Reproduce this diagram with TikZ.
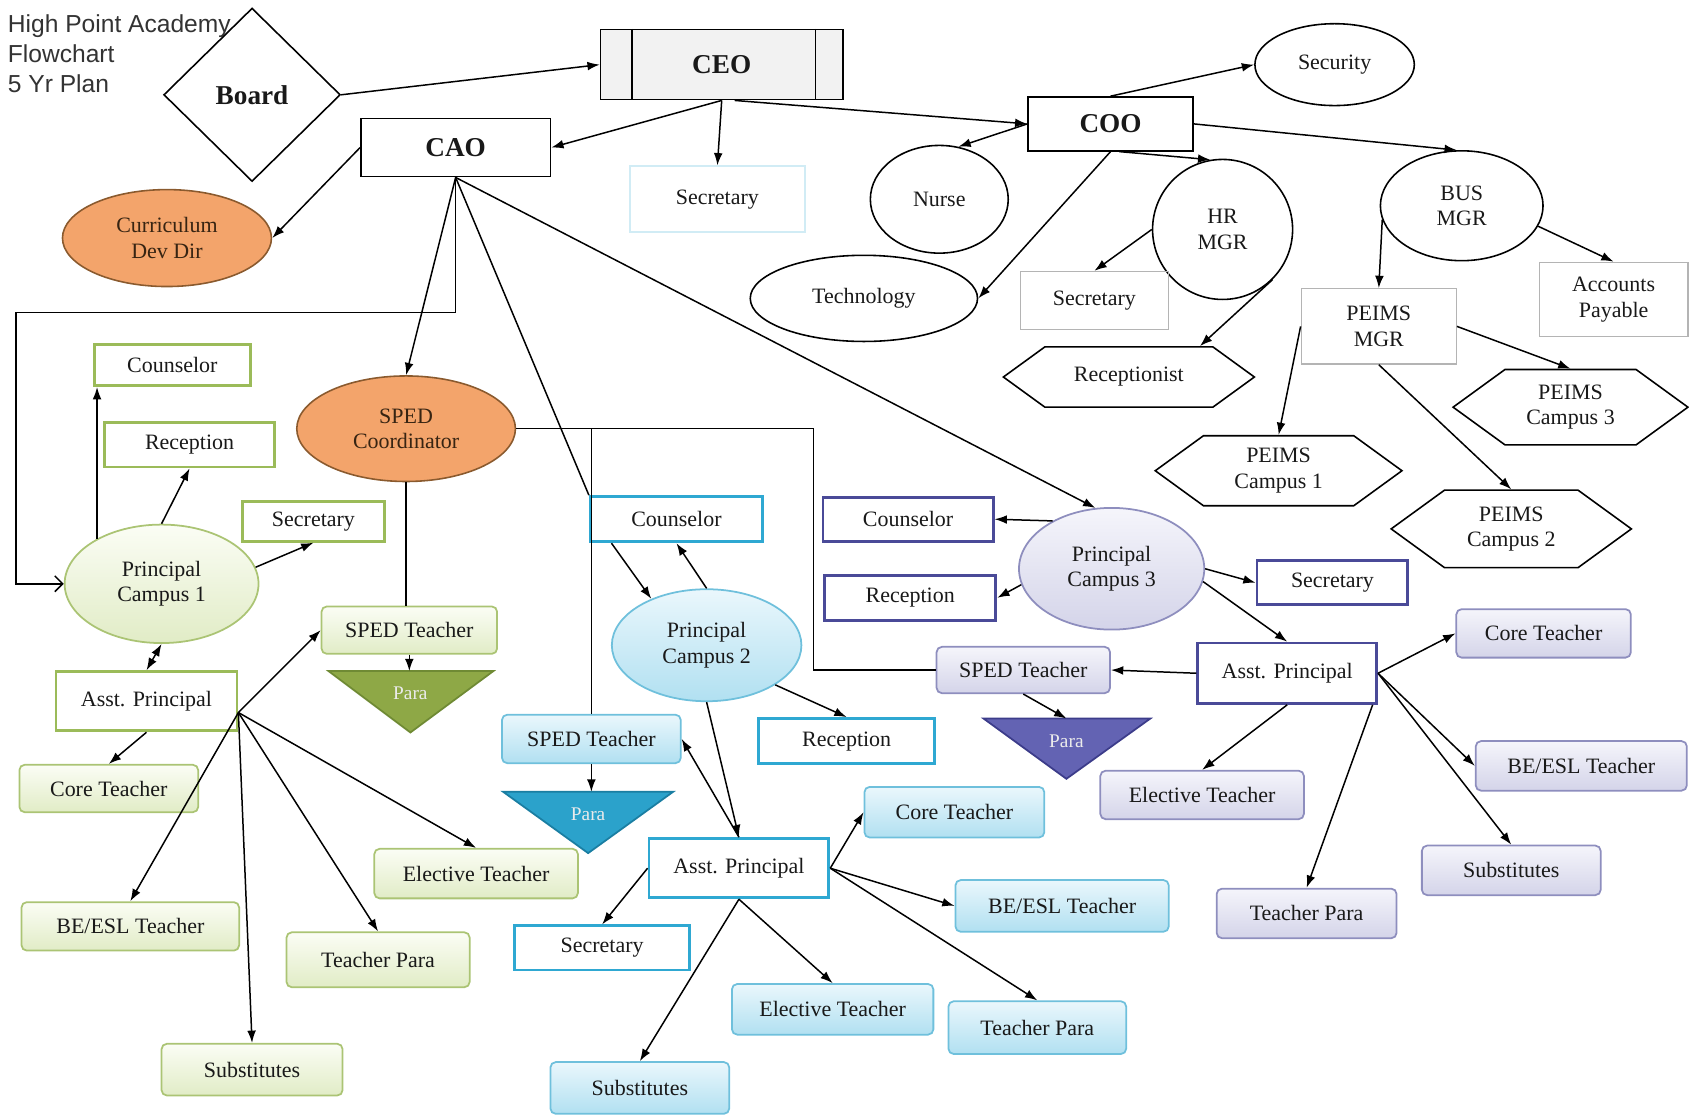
\documentclass[tikz,border=0pt]{standalone}
\usepackage{fontspec}
\setmainfont{Liberation Serif}
\newfontfamily\titlefont{Liberation Sans}
\usetikzlibrary{shapes.geometric, shapes.symbols, arrows.meta, calc}
\definecolor{grnline}{HTML}{9BBB59}
\definecolor{grnsoft}{HTML}{ABC474}
\definecolor{grntop}{HTML}{FBFDF5}
\definecolor{grnbot}{HTML}{E1ECC6}
\definecolor{grnpara}{HTML}{8EA846}
\definecolor{grnparaline}{HTML}{6F8A34}
\definecolor{cyaline}{HTML}{2FA8D2}
\definecolor{cyasoft}{HTML}{6FC0DC}
\definecolor{cyatop}{HTML}{EAF7FC}
\definecolor{cyabot}{HTML}{B1E0F1}
\definecolor{cyapara}{HTML}{2BA2CB}
\definecolor{cyaparaline}{HTML}{1A7EA2}
\definecolor{purline}{HTML}{4A4A98}
\definecolor{pursoft}{HTML}{8E8EBE}
\definecolor{purtop}{HTML}{F5F5FB}
\definecolor{purbot}{HTML}{D4D4E9}
\definecolor{purpara}{HTML}{6363B3}
\definecolor{purparaline}{HTML}{3C3C8A}
\definecolor{orgfill}{HTML}{F3A46B}
\definecolor{orgline}{HTML}{8A5A2E}
\definecolor{greyline}{HTML}{B4B4B4}
\newcommand{\pxu}{0.021544cm}

\begin{document}
\begin{tikzpicture}[
    x=\pxu, y=-\pxu,
    every node/.style={font=\fontsize{12.5}{14.5}\selectfont, text=black!90, align=center, inner sep=0pt},
    sz/.style 2 args={minimum width=#1*\pxu, minimum height=#2*\pxu},
    plain/.style={rectangle, draw, line width=0.9pt},
    boss/.style={plain, font=\bfseries\fontsize{15.5}{17}\selectfont},
    lightbox/.style={rectangle, draw=greyline, line width=0.7pt},
    oval/.style={ellipse, draw, line width=0.9pt},
    hexa/.style={signal, signal to=east and west, signal pointer angle=72, draw, line width=0.9pt},
    orange/.style={ellipse, draw=orgline, fill=orgfill, line width=0.9pt, text=orgline!40!black},
    gbox/.style={rectangle, draw=grnline, line width=1.6pt, fill=white},
    gsoft/.style={rectangle, rounded corners=3pt, draw=grnsoft, line width=1pt, top color=grntop, bottom color=grnbot},
    gprin/.style={ellipse, draw=grnsoft, line width=1pt, top color=grntop, bottom color=grnbot},
    cbox/.style={rectangle, draw=cyaline, line width=1.6pt, fill=white},
    csoft/.style={rectangle, rounded corners=3pt, draw=cyasoft, line width=1pt, top color=cyatop, bottom color=cyabot},
    cprin/.style={ellipse, draw=cyasoft, line width=1pt, top color=cyatop, bottom color=cyabot},
    pbox/.style={rectangle, draw=purline, line width=1.6pt, fill=white},
    psoft/.style={rectangle, rounded corners=3pt, draw=pursoft, line width=1pt, top color=purtop, bottom color=purbot},
    pprin/.style={ellipse, draw=pursoft, line width=1pt, top color=purtop, bottom color=purbot},
    paratext/.style={text=white!92!black, font=\fontsize{11}{12}\selectfont},
    link/.style={draw, line width=0.85pt},
    arr/.style={link, -{Latex[length=7pt, width=5pt]}},
    arrboth/.style={link, {Latex[length=7pt, width=5pt]}-{Latex[length=7pt, width=5pt]}},
    openarr/.style={link, -{Straight Barb[length=4.5pt, width=9pt]}}
]
\useasboundingbox (0,0) rectangle (1568,1035);

% Title
\node[anchor=west, align=left, text=black!80, font=\titlefont\fontsize{14}{17.2}\selectfont] (title) at (7,50) {High Point Academy\\Flowchart\\5 Yr Plan};

% Top level
\node[diamond, draw, line width=0.9pt, sz={164}{161}, font=\bfseries\fontsize{15.5}{17}\selectfont] (board) at (234,88) {Board};
\node[boss, sz={225}{65}, fill=black!5] (ceo) at (670,60) {CEO};
\draw[line width=0.9pt] ($(ceo.north west)+(30,0)$) -- ($(ceo.south west)+(30,0)$);
\draw[line width=0.9pt] ($(ceo.north east)+(-26,0)$) -- ($(ceo.south east)+(-26,0)$);
\node[boss, sz={176}{54}] (cao) at (423,137) {CAO};
\node[boss, sz={153}{50}] (coo) at (1031,115) {COO};
\node[orange, sz={194}{90}] (cdd) at (155,221) {Curriculum\\Dev Dir};
\node[rectangle, draw=cyaline!22, line width=1.2pt, sz={163}{61}] (ceosec) at (666,185) {Secretary};

% Operations
\node[oval, sz={148}{76}] (secur) at (1239,60) {Security};
\node[oval, sz={128}{100}] (nurse) at (872,185) {Nurse};
\node[oval, sz={130}{130}] (hr) at (1135,213) {HR\\MGR};
\node[oval, sz={151}{102}] (bus) at (1357,191) {BUS\\MGR};
\node[oval, sz={211}{80}] (tech) at (802,277) {Technology};
\node[lightbox, sz={137}{54}] (hrsec) at (1016,279) {Secretary};
\node[hexa, sz={233}{56}] (recp) at (1048,350) {Receptionist};
\node[lightbox, sz={144}{70}] (pmgr) at (1280,303) {PEIMS\\MGR};
\node[lightbox, sz={138}{69}] (accp) at (1498,278) {Accounts\\Payable};
\node[hexa, sz={218}{70}] (pcam3) at (1458,378) {PEIMS\\Campus 3};
\node[hexa, sz={229}{65}] (pcam1) at (1187,437) {PEIMS\\Campus 1};
\node[hexa, sz={223}{72}] (pcam2) at (1403,491) {PEIMS\\Campus 2};

\node[orange, sz={203}{98}] (spedc) at (377,398) {SPED\\Coordinator};

% Campus 1
\node[gbox, sz={145}{38}] (cou1) at (160,339) {Counselor};
\node[gbox, sz={158}{41}] (rec1) at (176,413) {Reception};
\node[gbox, sz={132}{37}] (sec1) at (291,484) {Secretary};
\node[gprin, sz={180}{110}] (pc1) at (150,542) {Principal\\Campus 1};
\node[gsoft, sz={163}{44}] (sped1) at (380,585) {SPED Teacher};
\filldraw[draw=grnparaline, fill=grnpara, line width=1pt] (305,623) -- (458,623) -- (381,680) -- cycle;
\coordinate (para1top) at (380,623);
\node[paratext] (para1) at (381,644) {Para};
\node[gbox, sz={168}{55}] (asst1) at (136,651) {Asst. Principal};
\node[gsoft, sz={166}{44}] (core1) at (101,732) {Core Teacher};
\node[gsoft, sz={202}{45}] (beesl1) at (121,860) {BE/ESL Teacher};
\node[gsoft, sz={189}{46}] (elec1) at (442,811) {Elective Teacher};
\node[gsoft, sz={170}{51}] (tpara1) at (351,891) {Teacher Para};
\node[gsoft, sz={168}{48}] (subs1) at (234,993) {Substitutes};

% Campus 2
\node[cbox, sz={160}{42}] (cou2) at (628,482) {Counselor};
\node[cprin, sz={176}{104}] (pc2) at (656,599) {Principal\\Campus 2};
\node[cbox, sz={163}{42}] (rec2) at (786,688) {Reception};
\node[csoft, sz={166}{45}] (sped2) at (549,686) {SPED Teacher};
\filldraw[draw=cyaparaline, fill=cyapara, line width=1pt] (467,735) -- (625,735) -- (546,792) -- cycle;
\coordinate (para2top) at (549,735);
\node[paratext] (para2) at (546,756) {Para};
\node[cbox, sz={167}{55}] (asst2) at (686,806) {Asst. Principal};
\node[csoft, sz={167}{47}] (core2) at (886,754) {Core Teacher};
\node[csoft, sz={198}{48}] (beesl2) at (986,841) {BE/ESL Teacher};
\node[cbox, sz={162}{41}] (sec2) at (559,880) {Secretary};
\node[csoft, sz={187}{47}] (elec2) at (773,937) {Elective Teacher};
\node[csoft, sz={165}{49}] (tpara2) at (963,954) {Teacher Para};
\node[csoft, sz={166}{48}] (subs2) at (594,1010) {Substitutes};

% Campus 3
\node[pbox, sz={158}{41}] (cou3) at (843,482) {Counselor};
\node[pbox, sz={159}{42}] (rec3) at (845,555) {Reception};
\node[pprin, sz={172}{113}] (pc3) at (1032,528) {Principal\\Campus 3};
\node[pbox, sz={140}{41}] (sec3) at (1237,541) {Secretary};
\node[pbox, sz={166}{56}] (asst3) at (1195,625) {Asst. Principal};
\node[psoft, sz={161}{43}] (sped3) at (950,622) {SPED Teacher};
\filldraw[draw=purparaline, fill=purpara, line width=1pt] (913,667) -- (1068,667) -- (990,723) -- cycle;
\coordinate (para3top) at (990,667);
\node[paratext] (para3) at (990,688) {Para};
\node[psoft, sz={162}{45}] (core3) at (1433,588) {Core Teacher};
\node[psoft, sz={196}{46}] (beesl3) at (1468,711) {BE/ESL Teacher};
\node[psoft, sz={189}{45}] (elec3) at (1116,738) {Elective Teacher};
\node[psoft, sz={166}{46}] (subs3) at (1403,808) {Substitutes};
\node[psoft, sz={167}{46}] (tpara3) at (1213,848) {Teacher Para};

% Top connectors
\draw[arr] (board.east) -- (ceo.west);
\draw[arr] (ceo.south) -- (cao.east);
\draw[arr] (ceo.south) -- (ceosec.north);
\draw[arr] ($(ceo.south)+(12,0)$) -- (coo.west);
\draw[arr] (coo.north) -- (secur.west);
\draw[arr] (coo.west) -- (nurse.70);
\draw[arr] (coo.south) -- (tech.east);
\draw[arr] ($(coo.south)+(8,0)$) -- (hr.100);
\draw[arr] (coo.east) -- (bus.95);
\draw[arr] (hr.west) -- (hrsec.north);
\draw[arr] (hr.-45) -- ($(recp.north)+(66,0)$);
\draw[arr] (bus.190) -- (pmgr.north);
\draw[arr] (bus.-15) -- (accp.north);
\draw[arr] (pmgr.west) -- (pcam1.north);
\draw[arr] (pmgr.east) -- (pcam3.north);
\draw[arr] (pmgr.south) -- (pcam2.north);

% CAO connectors
\draw[arr] (cao.west) -- (cdd.east);
\draw[openarr] (cao.south) |- (15,290) |- (pc1.west);
\draw[arr] (cao.south) -- (spedc.north);
\draw[link] (cao.south) -- (cou2.north west);
\draw[arr] (cao.south) -- (pc3.105);
\draw[link] (spedc.east) -| (755,622) -- (sped3.west);
\draw[link] (spedc.east -| sped2.north) -- (sped2.north);
\draw[link] (spedc.south) -- (spedc.south |- sped1.north);

% Campus 1 connectors
\draw[arr] (pc1.145) -- (pc1.145 |- cou1.south);
\draw[arr] (pc1.north) -- (rec1.south);
\draw[arr] (pc1.10) -- (sec1.south);
\draw[arrboth] (pc1.south) -- (asst1.north);
\draw[arr] (sped1.south) -- (para1top);
\draw[arr] (asst1.south) -- (core1.north);
\foreach \dest in {sped1.west, beesl1.north, subs1.north, tpara1.north, elec1.north}
    \draw[arr] (asst1.-7) -- (\dest);

% Campus 2 connectors
\draw[arr] ($(cou2.south west)+(21,0)$) -- (pc2.140);
\draw[arr] (pc2.north) -- (cou2.south);
\draw[arr] (pc2.-30) -- (rec2.north);
\draw[arr] (pc2.south) -- (asst2.north);
\draw[arr] (asst2.north) -- (sped2.east);
\draw[arr] (sped2.south) -- (para2top);
\draw[arr] (asst2.west) -- (sec2.north);
\foreach \dest in {subs2.north, elec2.north}
    \draw[arr] (asst2.south) -- (\dest);
\foreach \dest in {core2.west, beesl2.west, tpara2.north}
    \draw[arr] (asst2.east) -- (\dest);

% Campus 3 connectors
\draw[arr] (pc3.141) -- (cou3.east);
\draw[arr] (pc3.190) -- (rec3.east);
\draw[arr] (pc3.east) -- (sec3.west);
\draw[arr] (pc3.-8) -- (asst3.north);
\draw[arr] (asst3.west) -- (sped3.east);
\draw[arr] (sped3.south) -- (para3top);
\draw[arr] (asst3.south) -- (elec3.north);
\draw[arr] ($(asst3.south east)+(-5,0)$) -- (tpara3.north);
\foreach \dest in {core3.west, beesl3.west, subs3.north}
    \draw[arr] (asst3.east) -- (\dest);

\end{tikzpicture}
\end{document}
